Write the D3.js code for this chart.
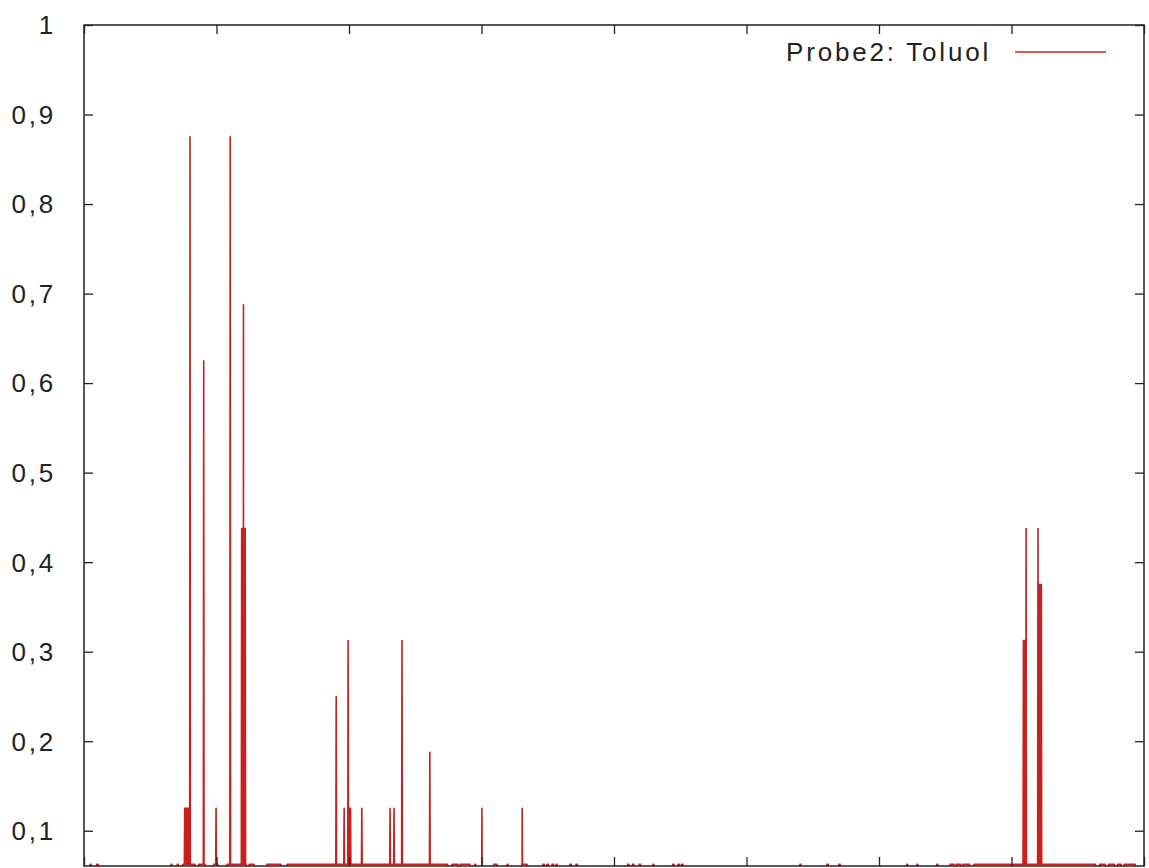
<!DOCTYPE html>
<html>
<head>
<meta charset="utf-8">
<script src="https://cdn.jsdelivr.net/npm/d3@7"></script>
<style>
  html, body { margin: 0; padding: 0; background: #fff; }
  svg { display: block; }
</style>
</head>
<body>
<svg id="chart" width="1149" height="868"></svg>
<script>
// ---- data (time in hours, concentration values) ----
const seriesName = "Probe2: Toluol";
const yTicks = [0.1, 0.2, 0.3, 0.4, 0.5, 0.6, 0.7, 0.8, 0.9, 1];
const xTicks = [0, 3, 6, 9, 12, 15, 18, 21, 24];
const baseLevel = 0.0625;
// spikes: time and peak value
const spikeTimes = [2.28, 2.295, 2.31, 2.325, 2.34, 2.355, 2.37, 2.40, 2.71, 2.99, 3.31,
                    3.57, 3.585, 3.60, 3.61, 3.62, 3.635, 3.65,
                    5.71, 5.89, 5.98, 6.005, 6.02, 6.035, 6.29, 6.93, 7.02, 7.20, 7.83, 9.01, 9.92,
                    21.27, 21.285, 21.30, 21.315, 21.33, 21.60, 21.615, 21.63, 21.645, 21.66, 21.675];
const spikeValues = [0.125, 0.125, 0.125, 0.125, 0.125, 0.125, 0.125, 0.875, 0.625, 0.125, 0.875,
                     0.4375, 0.4375, 0.4375, 0.6875, 0.4375, 0.4375, 0.4375,
                     0.25, 0.125, 0.3125, 0.125, 0.125, 0.125, 0.125, 0.125, 0.125, 0.3125, 0.1875, 0.125, 0.125,
                     0.3125, 0.3125, 0.3125, 0.3125, 0.4375, 0.4375, 0.375, 0.375, 0.375, 0.375, 0.375];
// stretches where the value stays at the lowest level (0.0625)
const baseStarts = [0.14, 0.29, 1.97, 2.11, 2.24, 2.60, 2.94, 3.24, 3.74, 4.14, 4.60, 8.33, 8.52, 8.85,
                    9.28, 9.58, 9.92, 10.39, 10.48, 10.60, 10.69, 11.00, 11.14, 12.31, 12.42, 12.57,
                    12.88, 13.33, 13.45, 13.53, 16.21, 16.82, 17.09, 18.63, 18.86, 19.31, 19.61, 19.75,
                    19.90, 20.15, 23.00, 23.20, 23.40, 23.55];
const baseEnds   = [0.16, 0.32, 1.99, 2.13, 2.51, 2.74, 3.03, 3.67, 3.85, 4.46, 8.23, 8.47, 8.74, 8.87,
                    9.35, 9.60, 10.03, 10.42, 10.51, 10.63, 10.71, 11.03, 11.17, 12.34, 12.45, 12.60,
                    12.90, 13.36, 13.48, 13.56, 16.23, 16.85, 17.12, 18.65, 18.88, 19.33, 19.70, 19.85,
                    20.05, 22.90, 23.12, 23.33, 23.48, 23.80];

// ---- layout ----
const W = 1149, H = 868;
const mLeft = 84, mRight = 1144, mTop = 25, mBottom = 866;
const x = d3.scaleLinear().domain([0, 24]).range([mLeft, mRight]);
const y = d3.scaleLinear().domain([0.0606, 1]).range([mBottom, mTop]);
const color = "#c8201f";
const font = "'Liberation Sans', Arial, Helvetica, sans-serif";

const svg = d3.select("#chart");

// ---- build the line points ----
const segs = baseStarts.map((s, i) => [s, baseEnds[i]]);
const levelAt = t => segs.some(([a, b]) => t >= a && t <= b) ? baseLevel : 0;
const dt = 0.008;
let pts = [];
segs.forEach(([a, b]) => {
  pts.push([a - dt, 0], [a, baseLevel], [b, baseLevel], [b + dt, 0]);
});
spikeTimes.forEach((t, i) => {
  const b = levelAt(t);
  pts.push([t - dt, b], [t, spikeValues[i]], [t + dt, b]);
});
pts.sort((p, q) => p[0] - q[0]);
pts.unshift([0, 0]);
pts.push([24, 0]);

svg.append("clipPath").attr("id", "clip")
  .append("rect").attr("x", mLeft).attr("y", mTop).attr("width", mRight - mLeft).attr("height", mBottom - mTop);

const line = d3.line().x(p => x(p[0])).y(p => y(p[1]));
svg.append("path")
  .datum(pts)
  .attr("clip-path", "url(#clip)")
  .attr("fill", "none")
  .attr("stroke", color)
  .attr("stroke-width", 1.6)
  .attr("stroke-linejoin", "round")
  .attr("d", line);

// ---- axes / border ----
const axisColor = "#222";
const tickLen = 9;
const axL = svg.append("g").attr("transform", `translate(${mLeft},0)`)
  .call(d3.axisRight(y).tickValues(yTicks).tickSize(tickLen).tickFormat(""));
const axR = svg.append("g").attr("transform", `translate(${mRight},0)`)
  .call(d3.axisLeft(y).tickValues(yTicks).tickSize(tickLen).tickFormat(""));
const axT = svg.append("g").attr("transform", `translate(0,${mTop})`)
  .call(d3.axisBottom(x).tickValues(xTicks).tickSize(tickLen).tickFormat(""));
const axB = svg.append("g").attr("transform", `translate(0,${mBottom})`)
  .call(d3.axisTop(x).tickValues(xTicks).tickSize(tickLen).tickFormat(""));
[axL, axR, axT, axB].forEach(g => {
  g.select(".domain").remove();
  g.selectAll("line").attr("stroke", axisColor).attr("stroke-width", 1.3);
});
svg.append("rect")
  .attr("x", mLeft).attr("y", mTop).attr("width", mRight - mLeft).attr("height", mBottom - mTop)
  .attr("fill", "none").attr("stroke", axisColor).attr("stroke-width", 1.5);

// y tick labels (German decimal comma)
const fmt = v => (v === 1 ? "1" : d3.format(".1f")(v).replace(".", ","));
svg.append("g").selectAll("text").data(yTicks).join("text")
  .attr("x", 56)
  .attr("y", v => y(v))
  .attr("dy", "0.36em")
  .attr("text-anchor", "end")
  .attr("font-family", font)
  .attr("font-size", 26)
  .attr("letter-spacing", 2.8)
  .attr("fill", "#222")
  .text(fmt);

// ---- legend ----
svg.append("text")
  .attr("x", 991).attr("y", 52).attr("dy", "0.36em")
  .attr("text-anchor", "end")
  .attr("font-family", font)
  .attr("font-size", 26)
  .attr("letter-spacing", 2.8)
  .attr("fill", "#222")
  .text(seriesName);
svg.append("line")
  .attr("x1", 1015).attr("x2", 1106).attr("y1", 52).attr("y2", 52)
  .attr("stroke", color).attr("stroke-width", 1.6);
</script>
</body>
</html>
